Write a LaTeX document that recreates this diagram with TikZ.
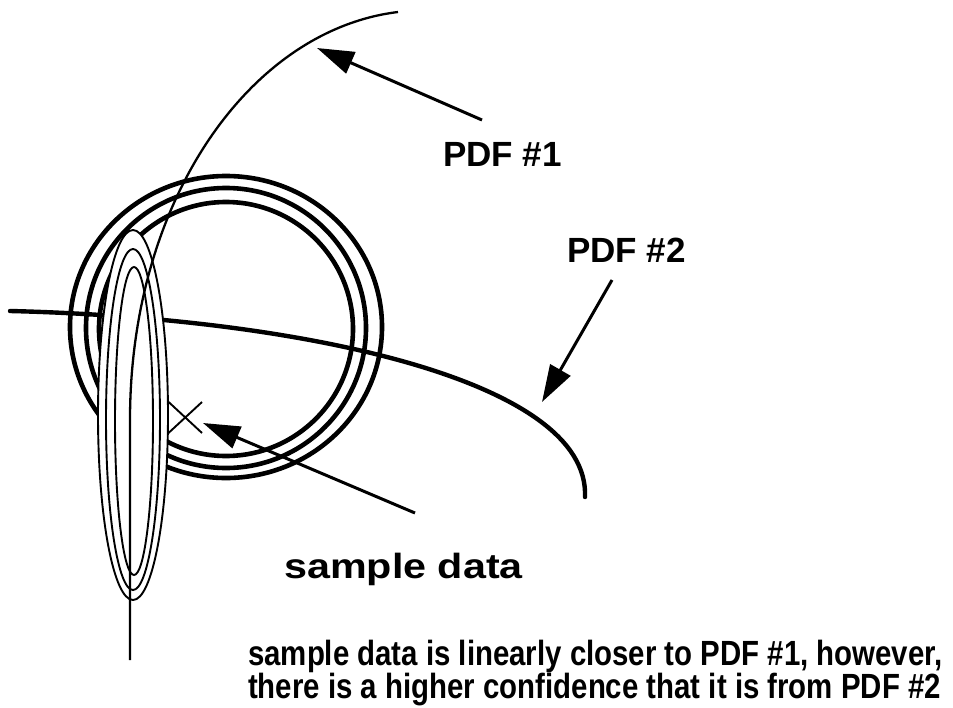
\documentclass[tikz,border=0pt]{standalone}
\usepackage{fontspec}
\setmainfont{Liberation Sans}
\newfontfamily\narrowfont[FakeStretch=0.84]{Liberation Sans}
\newfontfamily\widefont[FakeStretch=1.18]{Liberation Sans}
\usetikzlibrary{arrows.meta}
\begin{document}
\begin{tikzpicture}[x=1pt,y=-1pt,
  ring/.style={line width=4.6pt},
  pdfone/.style={line width=2.3pt},
  pdftwo/.style={line width=4.4pt, line cap=round},
  contour/.style={line width=1.9pt},
  pointer/.style={line width=3pt, -{Triangle[length=37pt,width=23pt]}},
  txt/.style={font=\bfseries\fontsize{35}{42}\selectfont, inner sep=0pt, anchor=base west},
  widetxt/.style={font=\widefont\bfseries\fontsize{35}{42}\selectfont, inner sep=0pt, anchor=base west},
  note/.style={font=\narrowfont\bfseries\fontsize{35}{42}\selectfont, inner sep=0pt, anchor=base west},
]
\useasboundingbox (0,0) rectangle (953,707);
% rings
\draw[ring] (226,327) ellipse [x radius=156, y radius=151];
\draw[ring] (226,328) circle [radius=140];
\draw[ring] (226,329) circle [radius=127];
% PDF #2 curve
\draw[pdftwo] (10,311) .. controls (300,318) and (590,380) .. (585,497);
% sample point
\draw[contour] (160,394) -- (202,433) (202,402) -- (162,439);
% tall contours
\draw[contour, fill=white] (133,415) ellipse [x radius=35, y radius=185];
\draw[contour] (133,419.5) ellipse [x radius=27, y radius=170.5];
\draw[contour] (134,421) ellipse [x radius=19, y radius=154];
% PDF #1 curve
\draw[pdfone] (398,12) .. controls (250,30) and (130,200) .. (130,420) -- (130,660);
% labels
\node[txt] (l1) at (443,166) {PDF \#1};
\node[txt] (l2) at (567,262) {PDF \#2};
\node[widetxt] (sd) at (284,578) {sample data};
\node[note] (n1) at (248,665) {sample data is linearly closer to PDF \#1, however,};
\node[note] (n2) at (248,698) {there is a higher confidence that it is from PDF \#2};
% arrows
\coordinate (t1) at (482,120); \coordinate (h1) at (317,48);
\coordinate (t2) at (612,280); \coordinate (h2) at (542,402);
\coordinate (t3) at (415,513); \coordinate (h3) at (203,423);
\draw[pointer] (t1) -- (h1);
\draw[pointer] (t2) -- (h2);
\draw[pointer] (t3) -- (h3);
\end{tikzpicture}
\end{document}
